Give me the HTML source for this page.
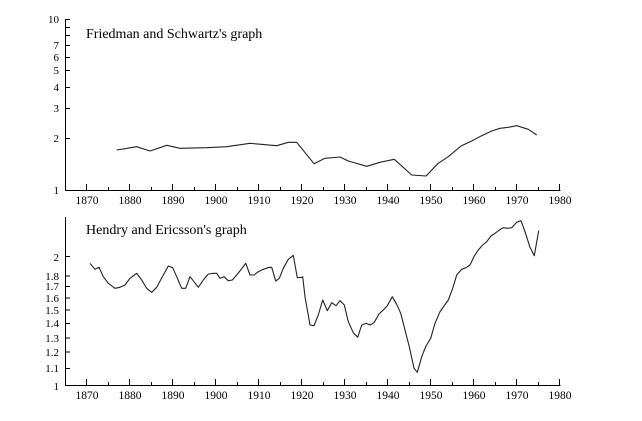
<!DOCTYPE html>
<html><head><style>body{margin:0;background:#fff}svg{display:block}text{font-family:"Liberation Serif",serif;fill:#000}</style></head>
<body>
<svg width="642" height="421" viewBox="0 0 642 421">
<g stroke="#000" stroke-width="1" fill="none">
<!-- top axes -->
<path d="M65.5 19V190.5H560.5"/>
<path d="M65 19.5h5M65 27.5h5M65 35.5h5M65 45.5h5M65 57.5h5M65 70.5h5M65 87.5h5M65 108.5h5M65 138.5h5"/>
<path d="M86.5 190v-6M129.5 190v-6M172.5 190v-6M215.5 190v-6M258.5 190v-6M301.5 190v-6M344.5 190v-6M387.5 190v-6M430.5 190v-6M473.5 190v-6M516.5 190v-6M559.5 190v-6"/>
<path d="M108.5 190v-3M151.5 190v-3M194.5 190v-3M237.5 190v-3M280.5 190v-3M323.5 190v-3M366.5 190v-3M409.5 190v-3M452.5 190v-3M495.5 190v-3M538.5 190v-3"/>
<!-- bottom axes -->
<path d="M65.5 217V385.5H560.5"/>
<path d="M65 256.5h5M65 276h5M65 286.5h5M65 298h5M65 310h5M65 323.5h5M65 338h5M65 352h5M65 368.5h5"/>
<path d="M86.5 385v-6M129.5 385v-6M172.5 385v-6M215.5 385v-6M258.5 385v-6M301.5 385v-6M344.5 385v-6M387.5 385v-6M430.5 385v-6M473.5 385v-6M516.5 385v-6M559.5 385v-6"/>
<path d="M108.5 385v-3M151.5 385v-3M194.5 385v-3M237.5 385v-3M280.5 385v-3M323.5 385v-3M366.5 385v-3M409.5 385v-3M452.5 385v-3M495.5 385v-3M538.5 385v-3"/>
</g>
<g stroke="#222" stroke-width="1.1" fill="none" stroke-linejoin="round">
<polyline points="116.7,150 136.7,146.7 150,151 166.7,145.3 180,148.3 206.7,147.7 226.7,146.7 250,143.3 276.7,145.7 288.3,142.3 296.7,142.3 314,163.7 319,161.3 325,158.3 340,157 348.3,161 366.7,166.3 380,162.3 394.3,159.3 411.7,175 426,176 438.3,163.3 448.3,156.7 461,146 471.7,141 481.7,135.7 491.7,131 500,128.3 508.3,127.3 516.7,125.7 528.3,129.3 536.7,135"/>
<polyline points="90,263.3 95,269.3 99,267.3 103.3,276.7 108.3,283.3 115,288.3 120,287.3 125,285 130,278.3 136.7,273.3 141.7,280 146.7,288.3 151.7,292.3 156.7,287.3 163.3,275 168.3,266 172.7,267.7 176.7,276.7 181.7,288.3 185.7,288.3 190,276.7 194,281.7 198.3,287.3 203.3,280 208.3,274 213.3,273.3 216.7,273.3 220,278.3 224,276.7 228.3,280.7 232.3,280 236.7,275 240.7,270 245.7,263.3 250,275 254,275 258.3,271.7 263.3,269.3 269.3,267.3 271.7,267.3 275.7,281 279.3,278.3 283.3,268.3 288.3,259.3 293.3,255.3 297.3,277.7 301.7,277.3 302.7,276.7 305,296.7 310,325 314,325.7 318.3,315 322.7,300 327.3,310.7 331.7,302.7 336,305.7 340,300.7 344.3,305 348.3,321.7 353.3,332.7 357.7,337.3 361.7,325 366,323.3 370,325 374,322.7 379,314 383.3,310 387.3,305.7 392.3,296.7 396.7,304.3 400.7,313.3 405,330 409.3,346.7 414,368.3 417.3,372.3 421.7,356.7 426,346 430.7,338.3 435,323.3 440,311.7 444,306 448.3,300 452.7,288.3 456.7,275 461.7,269.3 466,267.7 470,265 474.3,256 478.3,250 482.7,245 486.7,241.7 491,236 495,233.3 499.3,230 503.3,227.7 507.7,228.3 511.7,227.7 516.7,222.3 521,220.7 525,231.7 530,247.3 534.3,255.7 538.7,230.7"/>
</g>
<g font-size="11" text-anchor="end">
<text x="59" y="23">10</text><text x="59" y="49">7</text><text x="59" y="61">6</text><text x="59" y="74">5</text><text x="59" y="91">4</text><text x="59" y="112">3</text><text x="59" y="142">2</text><text x="59" y="194">1</text>
<text x="59" y="261">2</text><text x="59" y="280">1.8</text><text x="59" y="290">1.7</text><text x="59" y="302">1.6</text><text x="59" y="314">1.5</text><text x="59" y="327">1.4</text><text x="59" y="342">1.3</text><text x="59" y="356">1.2</text><text x="59" y="372">1.1</text><text x="59" y="390">1</text>
</g>
<g font-size="11.5" text-anchor="middle">
<text x="87" y="204">1870</text><text x="130" y="204">1880</text><text x="173" y="204">1890</text><text x="216" y="204">1900</text><text x="259" y="204">1910</text><text x="302" y="204">1920</text><text x="345" y="204">1930</text><text x="388" y="204">1940</text><text x="431" y="204">1950</text><text x="474" y="204">1960</text><text x="517" y="204">1970</text><text x="560" y="204">1980</text>
<text x="87" y="399">1870</text><text x="130" y="399">1880</text><text x="173" y="399">1890</text><text x="216" y="399">1900</text><text x="259" y="399">1910</text><text x="302" y="399">1920</text><text x="345" y="399">1930</text><text x="388" y="399">1940</text><text x="431" y="399">1950</text><text x="474" y="399">1960</text><text x="517" y="399">1970</text><text x="560" y="399">1980</text>
</g>
<text x="86" y="38" font-size="14">Friedman and Schwartz's graph</text>
<text x="86" y="234" font-size="14">Hendry and Ericsson's graph</text>
</svg>
</body></html>
